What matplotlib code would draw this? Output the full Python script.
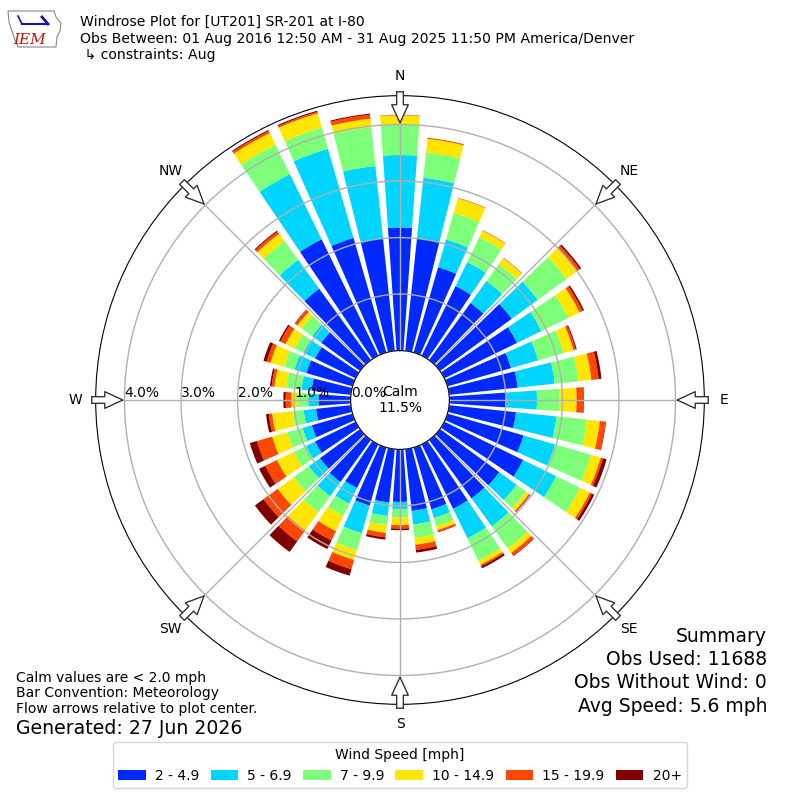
import numpy as np
import matplotlib
matplotlib.use("Agg")
import matplotlib.pyplot as plt
from matplotlib.patches import Polygon

# ---------------- data ----------------
directions = np.arange(0, 360, 10)
speed_bins = ["2 - 4.9", "5 - 6.9", "7 - 9.9", "10 - 14.9", "15 - 19.9", "20+"]
s1 = [2.18, 2.00, 1.57, 1.37, 1.25, 1.57, 1.43, 1.17, 1.22, 1.01, 1.19, 1.40,
      1.55, 1.30, 1.28, 1.27, 1.14, 1.10, 0.93, 0.95, 1.07, 0.86, 0.92, 0.88,
      0.80, 0.75, 0.62, 0.57, 0.70, 0.85, 0.80, 0.85, 1.56, 2.29, 2.11, 2.00]
s2 = [1.28, 1.08, 0.51, 0.47, 0.48, 0.57, 0.48, 0.50, 0.66, 0.54, 0.72, 0.58,
      0.65, 0.38, 0.61, 0.58, 0.16, 0.24, 0.13, 0.24, 0.51, 0.31, 0.31, 0.24,
      0.18, 0.17, 0.22, 0.18, 0.18, 0.22, 0.23, 0.20, 0.63, 1.28, 1.64, 1.29]
s3 = [0.54, 0.45, 0.49, 0.49, 0.37, 0.63, 0.53, 0.47, 0.42, 0.40, 0.54, 0.66,
      0.47, 0.20, 0.48, 0.44, 0.15, 0.24, 0.14, 0.16, 0.31, 0.24, 0.35, 0.33,
      0.24, 0.28, 0.20, 0.18, 0.27, 0.19, 0.17, 0.22, 0.41, 0.58, 0.39, 0.69]
s4 = [0.16, 0.24, 0.27, 0.13, 0.13, 0.23, 0.22, 0.18, 0.23, 0.30, 0.23, 0.18,
      0.19, 0.07, 0.10, 0.08, 0.07, 0.12, 0.14, 0.14, 0.18, 0.30, 0.40, 0.35,
      0.33, 0.28, 0.36, 0.12, 0.21, 0.25, 0.18, 0.10, 0.16, 0.23, 0.26, 0.15]
s5 = [0.01, 0.02, 0.01, 0.01, 0.01, 0.06, 0.06, 0.04, 0.13, 0.12, 0.10, 0.04,
      0.04, 0.02, 0.06, 0.03, 0.03, 0.09, 0.06, 0.08, 0.17, 0.18, 0.24, 0.31,
      0.23, 0.28, 0.06, 0.10, 0.05, 0.07, 0.10, 0.05, 0.05, 0.04, 0.03, 0.07]
s6 = [0.00, 0.00, 0.00, 0.00, 0.00, 0.03, 0.03, 0.02, 0.05, 0.01, 0.01, 0.07,
      0.05, 0.01, 0.01, 0.04, 0.01, 0.05, 0.03, 0.04, 0.12, 0.17, 0.23, 0.19,
      0.12, 0.13, 0.05, 0.04, 0.03, 0.06, 0.03, 0.01, 0.02, 0.02, 0.02, 0.02]
series = [s1, s2, s3, s4, s5, s6]
rticks = [0.0, 1.0, 2.0, 3.0, 4.0]
compass = ["N", "NE", "E", "SE", "S", "SW", "W", "NW"]
calm_pct = 11.5

plt.rcParams['font.family'] = ['DejaVu Sans']
fig = plt.figure(figsize=(8, 8), dpi=100)
ax = fig.add_axes([0.1196, 0.1196, 0.7608, 0.7608], projection='polar')
ax.set_theta_zero_location('N')
ax.set_theta_direction(-1)

colors = plt.cm.jet(np.linspace(0, 1, 7)[1:])
theta = np.deg2rad(directions)
width = np.deg2rad(8.0)
bottom = np.zeros(len(directions))
for vals, col, lab in zip(series, colors, speed_bins):
    vals = np.asarray(vals)
    ax.bar(theta, vals, width=width, bottom=bottom, color=col,
           linewidth=0, label=lab, zorder=1)
    bottom = bottom + vals

ax.set_ylim(0, 4.51)
ax.set_rorigin(-0.873)
ax.set_yticks(rticks)
ax.set_yticklabels([f"{v:.1f}%" for v in rticks], fontsize=10)
ax.set_rlabel_position(270)
ax.set_xticks(np.deg2rad(np.arange(0, 360, 45)))
ax.set_xticklabels([])
ax.grid(True, color='#b0b0b0', linewidth=1.0)
ax.spines['polar'].set_color('black')
ax.spines['inner'].set_color('black')

# compass labels and flow arrows
for i, lab in enumerate(compass):
    t = np.deg2rad(i * 45)
    ax.text(t, 4.86, lab, ha='center', va='center', fontsize=10,
            clip_on=False)
    ax.annotate('', xy=(t, 4.03), xytext=(t, 4.58),
                arrowprops=dict(arrowstyle='simple,head_length=1.3,head_width=1.2,tail_width=0.48',
                                fc='white', ec='#333333', lw=1.0,
                                shrinkA=0, shrinkB=0),
                annotation_clip=False)

ax.text(0.5, 0.5, f"Calm\n{calm_pct:.1f}%", transform=ax.transAxes,
        ha='center', va='center', fontsize=10)

# titles
fig.text(80 / 800, 1 - 25.7 / 800, "Windrose Plot for [UT201] SR-201 at I-80",
         fontsize=10.12, ha='left', va='baseline')
fig.text(80 / 800, 1 - 42.7 / 800,
         "Obs Between: 01 Aug 2016 12:50 AM - 31 Aug 2025 11:50 PM America/Denver",
         fontsize=10.12, ha='left', va='baseline')
fig.text(80 / 800, 1 - 59.3 / 800, " \u21b3 constraints: Aug",
         fontsize=10.12, ha='left', va='baseline')

# logo
iowa = [(8, 11), (54, 11), (56, 17), (61, 23), (60, 31), (57, 37), (56, 47),
        (18, 47), (15, 40), (12, 31), (9, 22)]
fig.patches.append(Polygon([(x / 800, 1 - y / 800) for x, y in iowa],
                           closed=True, fill=False, ec='#888888', lw=0.8,
                           transform=fig.transFigure, figure=fig))
fig.add_artist(plt.Line2D([22 / 800, 48 / 800], [1 - 24 / 800, 1 - 24 / 800],
                          color='#1010c0', lw=1.5, transform=fig.transFigure))
fig.add_artist(plt.Line2D([18 / 800, 22 / 800], [1 - 16 / 800, 1 - 24 / 800],
                          color='#1010c0', lw=1.2, transform=fig.transFigure))
fig.add_artist(plt.Line2D([42 / 800, 48 / 800], [1 - 17 / 800, 1 - 24 / 800],
                          color='#1010c0', lw=2.0, transform=fig.transFigure))
fig.text(30 / 800, 1 - 44 / 800, "IEM", color='#cc1111', fontsize=11,
         family='DejaVu Serif', style='italic', ha='center', va='baseline')

# notes
fig.text(16 / 800, 1 - 681.7 / 800, "Calm values are < 2.0 mph", fontsize=10,
         va='baseline')
fig.text(16 / 800, 1 - 697.5 / 800, "Bar Convention: Meteorology", fontsize=10,
         va='baseline')
fig.text(16 / 800, 1 - 713.5 / 800, "Flow arrows relative to plot center.",
         fontsize=10, va='baseline')
fig.text(16 / 800, 1 - 734.3 / 800, "Generated: 27 Jun 2026", fontsize=13.6,
         va='baseline')

summary = ["Summary", "Obs Used: 11688", "Obs Without Wind: 0",
           "Avg Speed: 5.6 mph"]
for i, line in enumerate(summary):
    fig.text(767 / 800, 1 - (641.7 + 23.3 * i) / 800, line, fontsize=13.5,
             ha='right', va='baseline')

leg = fig.legend(*ax.get_legend_handles_labels(), loc='lower center',
                 bbox_to_anchor=(0.5, 0.006), ncol=6, fontsize=10,
                 title="Wind Speed [mph]", title_fontsize=10, frameon=True,
                 columnspacing=0.8, handletextpad=0.65)
leg.get_frame().set_edgecolor('#cccccc')

fig.savefig("out.png", dpi=100)
